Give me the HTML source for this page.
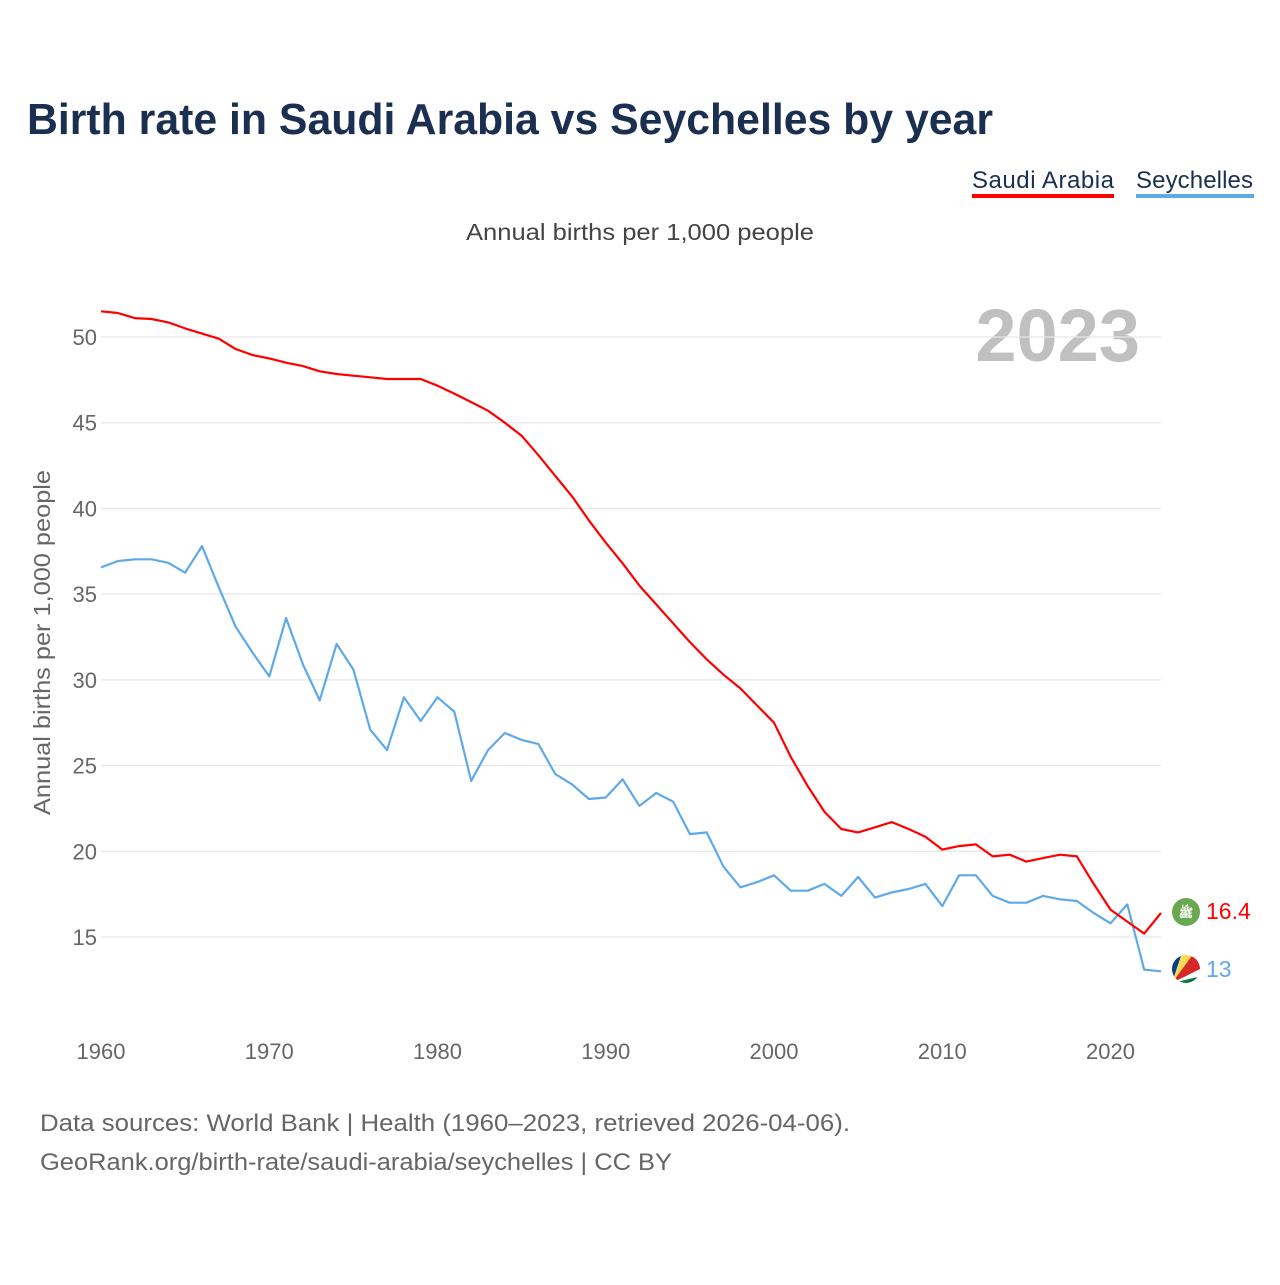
<!DOCTYPE html>
<html><head><meta charset="utf-8"><style>
body{margin:0;background:#fff;width:1280px;height:1280px;overflow:hidden;font-family:"Liberation Sans",sans-serif}
</style></head><body>
<svg id="chart" width="1280" height="1280" xmlns="http://www.w3.org/2000/svg" font-family="Liberation Sans, sans-serif">
<text x="27" y="134" font-size="44" font-weight="bold" fill="#1b2f50" textLength="966" lengthAdjust="spacingAndGlyphs">Birth rate in Saudi Arabia vs Seychelles by year</text>
<g>
<text x="972" y="188" font-size="24" fill="#1b2f50" textLength="142">Saudi Arabia</text>
<rect x="972" y="194" width="142" height="4" fill="#ff0000"/>
<text x="1136" y="188" font-size="24" fill="#1b2f50" textLength="117">Seychelles</text>
<rect x="1136" y="194" width="118" height="4" fill="#5ea9ea"/>
</g>
<text x="466" y="240" font-size="23" fill="#444" textLength="348" lengthAdjust="spacingAndGlyphs">Annual births per 1,000 people</text>
<text x="1140" y="361" font-size="74" font-weight="bold" fill="#c0c0c0" text-anchor="end">2023</text>
<text transform="translate(50,815) rotate(-90)" font-size="23" fill="#666" textLength="345" lengthAdjust="spacingAndGlyphs">Annual births per 1,000 people</text>
<g id="grid"></g>
<g id="yticks"></g>
<g id="xticks"></g>
<g id="series"></g>
<g>
<circle cx="1186" cy="912" r="14" fill="#6aa84f"/>
<text x="1186" y="917" font-size="12" fill="#fff" text-anchor="middle" font-weight="bold">ﷺ</text>
</g>
<g>
<clipPath id="scClip"><circle cx="1186" cy="969" r="14"/></clipPath>
<g clip-path="url(#scClip)">
<rect x="1170" y="953" width="32" height="32" fill="#fff"/>
<polygon points="1172,983 1172,953 1182,953" fill="#003f87"/>
<polygon points="1172,983 1182,953 1194,953" fill="#fcd856"/>
<polygon points="1172,983 1194,953 1202,953 1202,968" fill="#d62828"/>
<polygon points="1172,983 1202,976 1202,985" fill="#007a3d"/>
</g>
</g>
<text x="1206" y="919" font-size="23" fill="#ff0000">16.4</text>
<text x="1206" y="977" font-size="23" fill="#5ea9ea">13</text>
<text x="40" y="1131" font-size="24" fill="#666" textLength="810" lengthAdjust="spacingAndGlyphs">Data sources: World Bank | Health (1960–2023, retrieved 2026-04-06).</text>
<text x="40" y="1170" font-size="24" fill="#666" textLength="632" lengthAdjust="spacingAndGlyphs">GeoRank.org/birth-rate/saudi-arabia/seychelles | CC BY</text>
</svg>
<script>
const years = [];
for (let y = 1960; y <= 2023; y++) years.push(y);
const saudiArabia = [51.5,51.4,51.1,51.05,50.85,50.5,50.2,49.9,49.3,48.95,48.75,48.5,48.3,48.0,47.84,47.74,47.65,47.55,47.55,47.55,47.16,46.7,46.2,45.7,45.0,44.24,43.1,41.9,40.7,39.3,38.0,36.8,35.5,34.4,33.3,32.2,31.2,30.3,29.5,28.5,27.5,25.5,23.8,22.3,21.3,21.1,21.4,21.7,21.3,20.85,20.1,20.3,20.4,19.7,19.8,19.4,19.6,19.8,19.7,18.1,16.6,15.9,15.2,16.4];
const seychelles = [36.56,36.93,37.03,37.03,36.83,36.25,37.8,35.4,33.1,31.6,30.2,33.6,30.9,28.8,32.1,30.6,27.1,25.9,28.98,27.6,28.98,28.14,24.1,25.9,26.9,26.5,26.25,24.5,23.9,23.05,23.14,24.2,22.65,23.4,22.9,21.0,21.1,19.1,17.9,18.2,18.6,17.7,17.7,18.1,17.4,18.5,17.3,17.6,17.8,18.1,16.8,18.6,18.6,17.4,17.0,17.0,17.4,17.2,17.1,16.4,15.8,16.9,13.1,13.0];
const yTickValues = [15,20,25,30,35,40,45,50];
const xTickValues = [1960,1970,1980,1990,2000,2010,2020];

const NS = 'http://www.w3.org/2000/svg';
const xScale = yr => 101 + (yr - 1960) * (1060 / 63);
const yScale = v => 337 + (50 - v) * (600 / 35);
function mk(tag, attrs, parent) {
  const e = document.createElementNS(NS, tag);
  for (const k in attrs) e.setAttribute(k, attrs[k]);
  parent.appendChild(e);
  return e;
}
const grid = document.getElementById('grid');
const yt = document.getElementById('yticks');
yTickValues.forEach(v => {
  const l = mk('line', {x1: 101, x2: 1161, y1: yScale(v), y2: yScale(v), stroke: '#e6e6e6', 'stroke-width': 1.2}, grid);
  
  
  const t = mk('text', {x: 97, y: yScale(v) + 8, 'font-size': 22, fill: '#666', 'text-anchor': 'end'}, yt);
  t.textContent = v;
  
  
});
const xt = document.getElementById('xticks');
xTickValues.forEach(v => {
  const t = mk('text', {x: xScale(v), y: 1059, 'font-size': 22, fill: '#666', 'text-anchor': 'middle'}, xt);
  t.textContent = v;
  
  
});
const series = document.getElementById('series');
function drawLine(vals, color, name) {
  const d = vals.map((v, i) => (i ? 'L' : 'M') + xScale(years[i]).toFixed(1) + ',' + yScale(v).toFixed(1)).join(' ');
  const p = mk('path', {d: d, fill: 'none', stroke: color, 'stroke-width': 2.2, 'stroke-linejoin': 'round'}, series);
  
  
}
drawLine(seychelles, '#5ea9ea', 'seychelles-line');
drawLine(saudiArabia, '#ff0000', 'saudi-arabia-line');
</script>
</body></html>
